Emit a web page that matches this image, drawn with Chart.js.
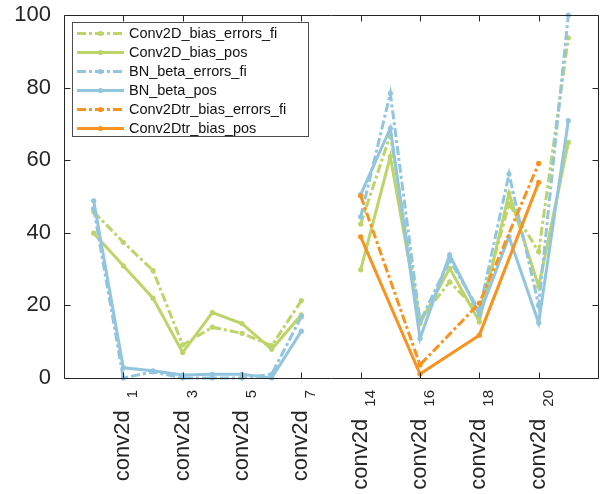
<!DOCTYPE html>
<html>
<head>
<meta charset="utf-8">
<script src="https://cdn.jsdelivr.net/npm/chart.js@4.4.1/dist/chart.umd.min.js"></script>
<style>
  html, body { margin: 0; padding: 0; background: #ffffff; }
  canvas { display: block; }
</style>
</head>
<body>
<canvas id="chart" width="609" height="494"></canvas>
<script>
// Layer slots along the x axis ('' marks an empty slot between the two groups)
const layers = [
  'conv2d', 'conv2d_1', 'conv2d_2', 'conv2d_3', 'conv2d_4', 'conv2d_5', 'conv2d_6', 'conv2d_7',
  '',
  'conv2d_14', 'conv2d_15', 'conv2d_16', 'conv2d_17', 'conv2d_18', 'conv2d_19', 'conv2d_20', 'conv2d_21'
];
// Slots that carry a tick and a label
const xTickSlots = [1, 3, 5, 7, 9, 11, 13, 15];
const yTicks = [0, 20, 40, 60, 80, 100];

const conv2dBiasErrorsFi = [45.8, 37.4, 29.6, 9.1, 14, 12.3, 8.9, 21.3, null, 42.4, 67, 16, 26.5, 18, 48, 34.8, 93.7];
const conv2dBiasPos      = [39.9, 30.9, 22, 7, 18, 15, 7.9, 17.4, null, 29.8, 61, 15, 30.2, 15.5, 50.9, 25.2, 64.9];
const bnBetaErrorsFi     = [46.7, 0, 1.7, 0, 0, 0, 1, 16.9, null, 44.4, 78.4, 15.5, 32.5, 18.5, 56.2, 20, 100];
const bnBetaPos          = [48.8, 2.8, 2, 0.8, 1, 1, 0, 12.9, null, 50.5, 68.8, 10.9, 33.9, 17.5, 38.9, 15.2, 70.9];
const conv2dtrBiasErrorsFi = [null, null, null, null, null, null, null, null, null, 50.2, null, 3.6, null, 20.6, null, 59.1, null];
const conv2dtrBiasPos      = [null, null, null, null, null, null, null, null, null, 38.9, null, 1.1, null, 11.8, null, 53.9, null];

const seriesNames = [
  'Conv2D_bias_errors_fi', 'Conv2D_bias_pos',
  'BN_beta_errors_fi', 'BN_beta_pos',
  'Conv2Dtr_bias_errors_fi', 'Conv2Dtr_bias_pos'
];
const seriesValues = [
  conv2dBiasErrorsFi, conv2dBiasPos,
  bnBetaErrorsFi, bnBetaPos,
  conv2dtrBiasErrorsFi, conv2dtrBiasPos
];

const GREEN = '#bcd468';
const BLUE = '#92c5de';
const ORANGE = '#f7931e';
const seriesColors = [GREEN, GREEN, BLUE, BLUE, ORANGE, ORANGE];
const DASH_DOT = [9, 3, 3, 3];
const seriesDashed = [true, false, true, false, true, false];

const FONT = "'Liberation Sans', Arial, Helvetica, sans-serif";
const AXIS_COLOR = '#262626';

const datasets = seriesNames.map((name, i) => ({
  label: name,
  data: seriesValues[i].map((v, k) => ({ x: k, y: v })),
  borderColor: seriesColors[i],
  backgroundColor: seriesColors[i],
  borderWidth: 3,
  borderDash: seriesDashed[i] ? DASH_DOT : [],
  borderCapStyle: 'butt',
  borderJoinStyle: 'miter',
  pointRadius: 2.6,
  pointBorderWidth: 0,
  pointBackgroundColor: seriesColors[i],
  pointHoverRadius: 2.6,
  tension: 0,
  spanGaps: i >= 4,
  clip: false,
  order: seriesNames.length - i
}));

// Axes box with inward ticks on all four sides
function drawFrame(chart) {
  const ctx = chart.ctx;
  const a = chart.chartArea;
  const x = chart.scales.x;
  const y = chart.scales.y;
  ctx.save();
  ctx.setLineDash([]);
  ctx.globalAlpha = 1;
  ctx.strokeStyle = AXIS_COLOR;
  ctx.lineWidth = 1;
  const l = Math.round(a.left) + 0.5, r = Math.round(a.right) + 0.5;
  const t = Math.round(a.top) + 0.5, b = Math.round(a.bottom) + 0.5;
  const tl = 6;
  ctx.beginPath();
  ctx.moveTo(l, t); ctx.lineTo(r, t); ctx.lineTo(r, b); ctx.lineTo(l, b); ctx.closePath();
  yTicks.forEach(v => {
    const py = Math.round(y.getPixelForValue(v)) + 0.5;
    ctx.moveTo(l, py); ctx.lineTo(l + tl, py);
    ctx.moveTo(r, py); ctx.lineTo(r - tl, py);
  });
  xTickSlots.forEach(s => {
    const px = Math.round(x.getPixelForValue(s)) + 0.5;
    ctx.moveTo(px, b); ctx.lineTo(px, b - tl);
    ctx.moveTo(px, t); ctx.lineTo(px, t + tl);
  });
  ctx.stroke();
  ctx.restore();
}

const framePlugin = {
  id: 'axesBox',
  afterDatasetsDraw(chart) { drawFrame(chart); }
};

// Rotated layer names with the numeric part set as a subscript
const layerLabelPlugin = {
  id: 'layerLabels',
  afterDraw(chart) {
    const ctx = chart.ctx;
    const a = chart.chartArea;
    const x = chart.scales.x;
    ctx.save();
    ctx.fillStyle = AXIS_COLOR;
    ctx.textAlign = 'right';
    ctx.textBaseline = 'alphabetic';
    xTickSlots.forEach(s => {
      const parts = layers[s].split('_');
      const base = parts[0];
      const sub = parts[1] || '';
      const px = x.getPixelForValue(s);
      ctx.save();
      ctx.translate(px, a.bottom + 12);
      ctx.rotate(-Math.PI / 2);
      let subW = 0;
      if (sub) {
        ctx.font = '15px ' + FONT;
        ctx.fillText(sub, 0, 14);
        subW = ctx.measureText(sub).width;
      }
      ctx.font = '22px ' + FONT;
      ctx.fillText(base, -(subW + 12), 6);
      ctx.restore();
    });
    ctx.restore();
  }
};

// Boxed legend in the upper-left corner of the plot
const boxLegendPlugin = {
  id: 'boxLegend',
  afterDatasetsDraw(chart) {
    const ctx = chart.ctx;
    const box = { left: 72, top: 22, width: 236, height: 114 };
    const rowTop = 33.5, rowStep = 19;
    const lineX0 = 77, lineX1 = 124, textX = 129;
    ctx.save();
    ctx.setLineDash([]);
    ctx.fillStyle = '#ffffff';
    ctx.fillRect(box.left, box.top, box.width, box.height);
    ctx.strokeStyle = '#4d4d4d';
    ctx.lineWidth = 1;
    ctx.strokeRect(box.left + 0.5, box.top + 0.5, box.width, box.height);
    chart.data.datasets.forEach((ds, i) => {
      const yy = rowTop + i * rowStep;
      ctx.save();
      ctx.strokeStyle = ds.borderColor;
      ctx.lineWidth = ds.borderWidth;
      ctx.setLineDash(ds.borderDash || []);
      ctx.beginPath();
      ctx.moveTo(lineX0, yy); ctx.lineTo(lineX1, yy);
      ctx.stroke();
      ctx.setLineDash([]);
      ctx.fillStyle = ds.pointBackgroundColor;
      ctx.beginPath();
      ctx.arc((lineX0 + lineX1) / 2, yy, ds.pointRadius, 0, Math.PI * 2);
      ctx.fill();
      ctx.restore();
      ctx.fillStyle = '#111111';
      ctx.font = '14.5px ' + FONT;
      ctx.textAlign = 'left';
      ctx.textBaseline = 'middle';
      ctx.fillText(ds.label, textX, yy + 0.5);
    });
    ctx.restore();
  }
};

new Chart(document.getElementById('chart'), {
  type: 'line',
  data: { datasets },
  options: {
    responsive: false,
    animation: false,
    devicePixelRatio: 1,
    layout: { padding: { left: 0, top: 15, right: 11, bottom: 0 } },
    plugins: { legend: { display: false }, tooltip: { enabled: false } },
    scales: {
      x: {
        type: 'linear',
        min: -1,
        max: 17,
        grid: { display: false, drawTicks: false },
        border: { display: false },
        ticks: { display: false },
        afterBuildTicks: s => { s.ticks = xTickSlots.map(v => ({ value: v })); },
        afterFit: s => { s.height = 116; s.paddingLeft = 0; s.paddingRight = 0; }
      },
      y: {
        type: 'linear',
        min: 0,
        max: 100,
        grid: { display: false, drawTicks: false },
        border: { display: false },
        ticks: { padding: 13, color: AXIS_COLOR, font: { family: FONT, size: 22 } },
        afterBuildTicks: s => { s.ticks = yTicks.map(v => ({ value: v })); },
        afterFit: s => { s.width = 64; s.paddingTop = 0; s.paddingBottom = 0; }
      }
    }
  },
  plugins: [framePlugin, layerLabelPlugin, boxLegendPlugin]
});
</script>
</body>
</html>
